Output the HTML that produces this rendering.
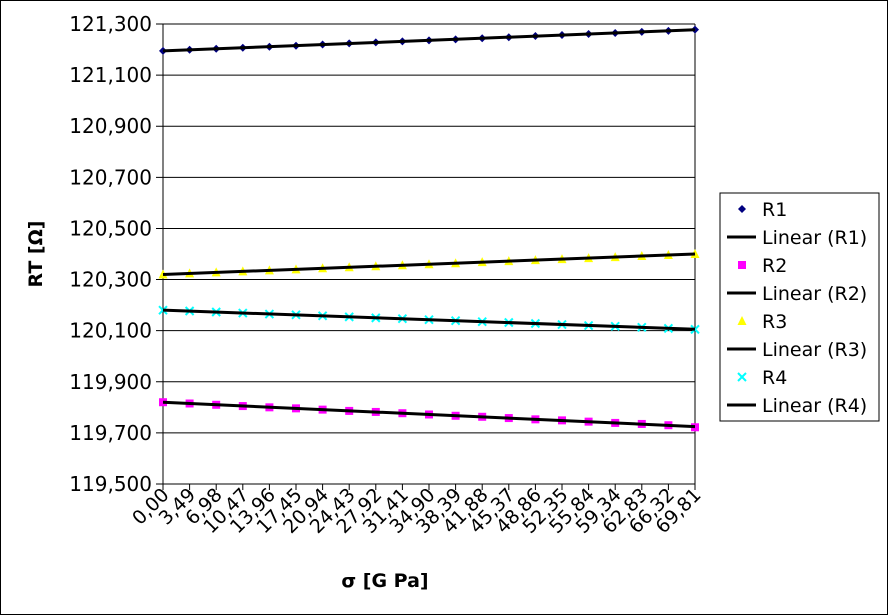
<!DOCTYPE html>
<html><head><meta charset="utf-8"><style>
body{margin:0;background:#fff}
svg{display:block;font-family:"DejaVu Sans","Liberation Sans",sans-serif}
</style></head><body>
<svg id="chart" width="888" height="615" viewBox="0 0 888 615" xmlns="http://www.w3.org/2000/svg">
<rect x="0.5" y="0.5" width="887" height="614" fill="#fff" stroke="#000"/>
<g id="grid"></g>
<g id="ylabels"></g>
<g id="xlabels"></g>
<g id="series"></g>
<text transform="translate(42,254) rotate(-90)" text-anchor="middle" font-size="19" font-weight="bold">RT [Ω]</text>
<text x="385" y="587" text-anchor="middle" font-size="19" font-weight="bold">σ [G Pa]</text>
<g>
<rect x="720" y="193" width="159" height="228" fill="#fff" stroke="#000"/>
<g id="legend-items"></g>
</g>
</svg>
<script>
const categories=["0,00","3,49","6,98","10,47","13,96","17,45","20,94","24,43","27,92","31,41","34,90","38,39","41,88","45,37","48,86","52,35","55,84","59,34","62,83","66,32","69,81"];
const r1=[121195,121199,121203,121207,121211,121215,121220,121224,121228,121232,121236,121240,121244,121248,121253,121257,121261,121265,121269,121273,121278];
const r2=[119820,119815,119810,119805,119800,119796,119791,119786,119782,119777,119772,119767,119763,119758,119753,119749,119744,119739,119735,119730,119722];
const r3=[120320,120324,120328,120332,120336,120340,120344,120348,120352,120356,120360,120364,120368,120372,120376,120380,120384,120388,120392,120396,120400];
const r4=[120180,120177,120173,120169,120165,120162,120158,120154,120150,120147,120143,120139,120135,120132,120128,120124,120120,120117,120113,120109,120105];
const yTicks=[119500,119700,119900,120100,120300,120500,120700,120900,121100,121300];
const yTickLabels=["119,500","119,700","119,900","120,100","120,300","120,500","120,700","120,900","121,100","121,300"];
const NS="http://www.w3.org/2000/svg";
const X0=163,X1=695,Y0=484,Y1=24,YMIN=119500,YMAX=121300;
function xs(i){return X0+(X1-X0)*i/(categories.length-1);}
function ys(v){return Y0-(v-YMIN)/(YMAX-YMIN)*(Y0-Y1);}
function mk(tag,attrs,parent){const e=document.createElementNS(NS,tag);for(const k in attrs)e.setAttribute(k,attrs[k]);parent.appendChild(e);return e;}
const grid=document.getElementById('grid'),yl=document.getElementById('ylabels'),xl=document.getElementById('xlabels'),ser=document.getElementById('series');
yTicks.forEach((t,i)=>{
 const l=mk('line',{x1:X0-7,x2:X1,y1:ys(t),y2:ys(t),stroke:'#000','stroke-width':1},grid);
 
 
 const tx=mk('text',{x:152,y:ys(t)+7,'text-anchor':'end','font-size':20},yl);
 tx.textContent=yTickLabels[i];
 
 
});
const ax=mk('line',{x1:X0,x2:X0,y1:Y1,y2:Y0+6,stroke:'#000'},grid);


const rx=mk('line',{x1:X1,x2:X1,y1:Y1,y2:Y0,stroke:'#000'},grid);


categories.forEach((c,i)=>{
 const tk=mk('line',{x1:xs(i),x2:xs(i),y1:Y0,y2:Y0+6,stroke:'#000'},grid);
 
 
 const tx=mk('text',{transform:`translate(${xs(i)+7},${Y0+12}) rotate(-45)`,'text-anchor':'end','font-size':19},xl);
 tx.textContent=c;
 
 
});
function marker(type,x,y,g){
 let e;
 if(type==='d')e=mk('polygon',{points:`${x},${y-4} ${x+4},${y} ${x},${y+4} ${x-4},${y}`,fill:'#000080'},g);
 else if(type==='s')e=mk('rect',{x:x-4,y:y-4,width:8,height:8,fill:'#ff00ff'},g);
 else if(type==='t')e=mk('polygon',{points:`${x},${y-5} ${x+4.5},${y+4} ${x-4.5},${y+4}`,fill:'#ffff00'},g);
 else {e=mk('path',{d:`M${x-4} ${y-4}L${x+4} ${y+4}M${x+4} ${y-4}L${x-4} ${y+4}`,stroke:'#00ffff','stroke-width':2},g);}
 return e;
}
const seriesList=[["R1",r1,'d'],["R2",r2,'s'],["R3",r3,'t'],["R4",r4,'x']];
seriesList.forEach(([name,data,type])=>{
 const g=mk('g',{},ser);
 
 
 data.forEach((v,i)=>{const m=marker(type,xs(i),ys(v),g);
  
  });
 const n=data.length;let sx=0,sy=0,sxx=0,sxy=0;
 data.forEach((v,i)=>{sx+=i;sy+=v;sxx+=i*i;sxy+=i*v;});
 const b=(n*sxy-sx*sy)/(n*sxx-sx*sx),a=(sy-b*sx)/n;
 const ln=mk('line',{x1:xs(0),y1:ys(a),x2:xs(n-1),y2:ys(a+b*(n-1)),stroke:'#000','stroke-width':3},g);
 
 
});
const li=document.getElementById('legend-items');
const legendLabels=["R1","Linear (R1)","R2","Linear (R2)","R3","Linear (R3)","R4","Linear (R4)"];
legendLabels.forEach((lab,i)=>{
 const y=209+i*28;
 const g=mk('g',{},li);
 
 
 if(i%2===0)marker(seriesList[i/2][2],742,y,g);
 else mk('line',{x1:727,x2:756,y1:y,y2:y,stroke:'#000','stroke-width':3},g);
 const t=mk('text',{x:762,y:y+7,'font-size':19},g);t.textContent=lab;
});
</script>
</body></html>
